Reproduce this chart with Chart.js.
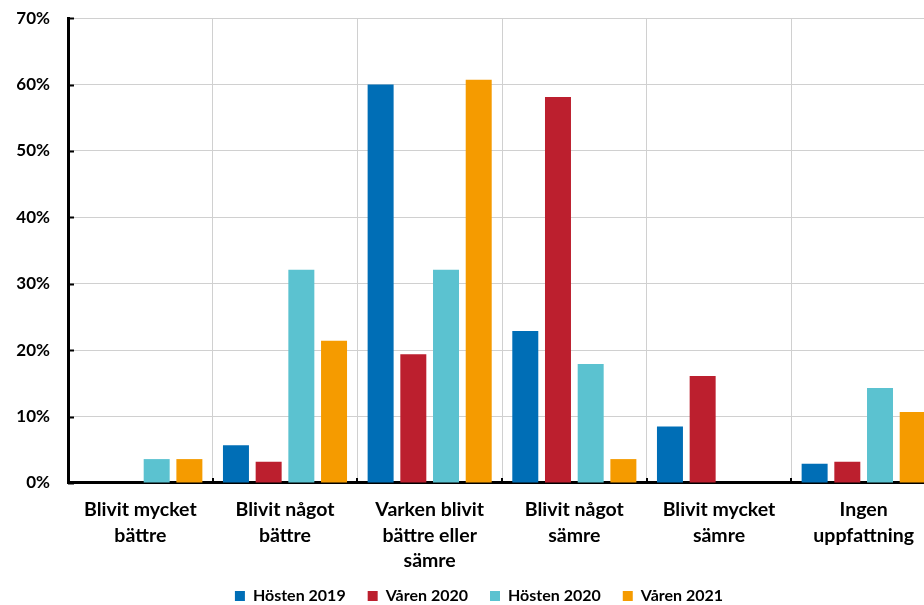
<!DOCTYPE html>
<html>
<head>
<meta charset="utf-8">
<script src="https://cdn.jsdelivr.net/npm/chart.js@4"></script>
<style>
  html, body { margin: 0; padding: 0; background: #fff; overflow: hidden; }
  #wrap { width: 957px; height: 605px; }
</style>
</head>
<body>
<div id="wrap"><canvas id="myChart"></canvas></div>
<script>
const categories = [
  ['Blivit mycket', 'bättre'],
  ['Blivit något', 'bättre'],
  ['Varken blivit', 'bättre eller', 'sämre'],
  ['Blivit något', 'sämre'],
  ['Blivit mycket', 'sämre'],
  ['Ingen', 'uppfattning']
];
const seriesNames = ['Hösten 2019', 'Våren 2020', 'Hösten 2020', 'Våren 2021'];
const hosten2019 = [0, 5.7, 60.0, 22.9, 8.5, 2.9];
const varen2020 = [0, 3.2, 19.4, 58.1, 16.1, 3.2];
const hosten2020 = [3.6, 32.1, 32.1, 17.9, 0, 14.3];
const varen2021 = [3.6, 21.4, 60.7, 3.6, 0, 10.7];
const yTicks = [0, 10, 20, 30, 40, 50, 60, 70];

const colors = ['#006EB6', '#BC1F2E', '#5BC2D0', '#F59B00'];
const font = 'Lato, "Liberation Sans", sans-serif';

// short ticks drawn inside the plot, like the original
const innerTicks = {
  id: 'innerTicks',
  afterLayout(chart) {
    // nudge the legend a bit, the original sits higher and more to the right
    const lg = chart.legend;
    lg.left += 11; lg.right += 11;
    lg.top -= 9;
  },
  afterDraw(chart) {
    const {ctx, chartArea, scales: {x, y}} = chart;
    ctx.save();
    ctx.strokeStyle = '#000';
    ctx.lineWidth = 2;
    yTicks.forEach(v => {
      const py = Math.round(y.getPixelForValue(v)) + 0.5;
      ctx.beginPath();
      ctx.moveTo(chartArea.left, py);
      ctx.lineTo(chartArea.left + 6, py);
      ctx.stroke();
    });
    for (let i = 0; i <= categories.length; i++) {
      const px = Math.round(x.getPixelForValue(i - 0.5));
      ctx.beginPath();
      ctx.moveTo(px, chartArea.bottom);
      ctx.lineTo(px, chartArea.bottom - 5);
      ctx.stroke();
    }
    ctx.restore();
  }
};

const ctx = document.getElementById('myChart').getContext('2d');
new Chart(ctx, {
  type: 'bar',
  data: {
    labels: categories,
    datasets: [hosten2019, varen2020, hosten2020, varen2021].map((d, i) => ({
      label: seriesNames[i],
      data: d,
      backgroundColor: colors[i],
      borderWidth: 0,
      categoryPercentage: 0.904,
      barPercentage: 0.795
    }))
  },
  options: {
    responsive: true,
    maintainAspectRatio: false,
    animation: false,
    layout: { padding: { top: 0, right: 21, left: 0, bottom: 0 } },
    plugins: {
      tooltip: { enabled: false },
      legend: {
        position: 'bottom',
        maxHeight: 30,
        labels: {
          boxWidth: 10,
          boxHeight: 10,
          padding: 22,
          color: '#000',
          font: { family: font, size: 16, weight: 'bold' }
        }
      }
    },
    scales: {
      x: {
        afterFit(scale) { scale.height = 92; },
        grid: { color: '#d0d0d0', lineWidth: 1, offset: true, drawTicks: false },
        border: { color: '#000', width: 3 },
        ticks: {
          color: '#000',
          maxRotation: 0,
          autoSkip: false,
          padding: 14,
          font: { family: font, size: 19.5, weight: 'bold', lineHeight: 1.31 }
        }
      },
      y: {
        min: 0,
        max: 70,
        afterFit(scale) { scale.width = 68; },
        grid: { color: '#d0d0d0', lineWidth: 1, drawTicks: false },
        border: { color: '#000', width: 3 },
        ticks: {
          stepSize: 10,
          color: '#000',
          padding: 18,
          callback: v => v + '%',
          font: { family: font, size: 17, weight: 'bold', lineHeight: 0.01 }
        }
      }
    }
  },
  plugins: [innerTicks]
});
</script>
</body>
</html>
